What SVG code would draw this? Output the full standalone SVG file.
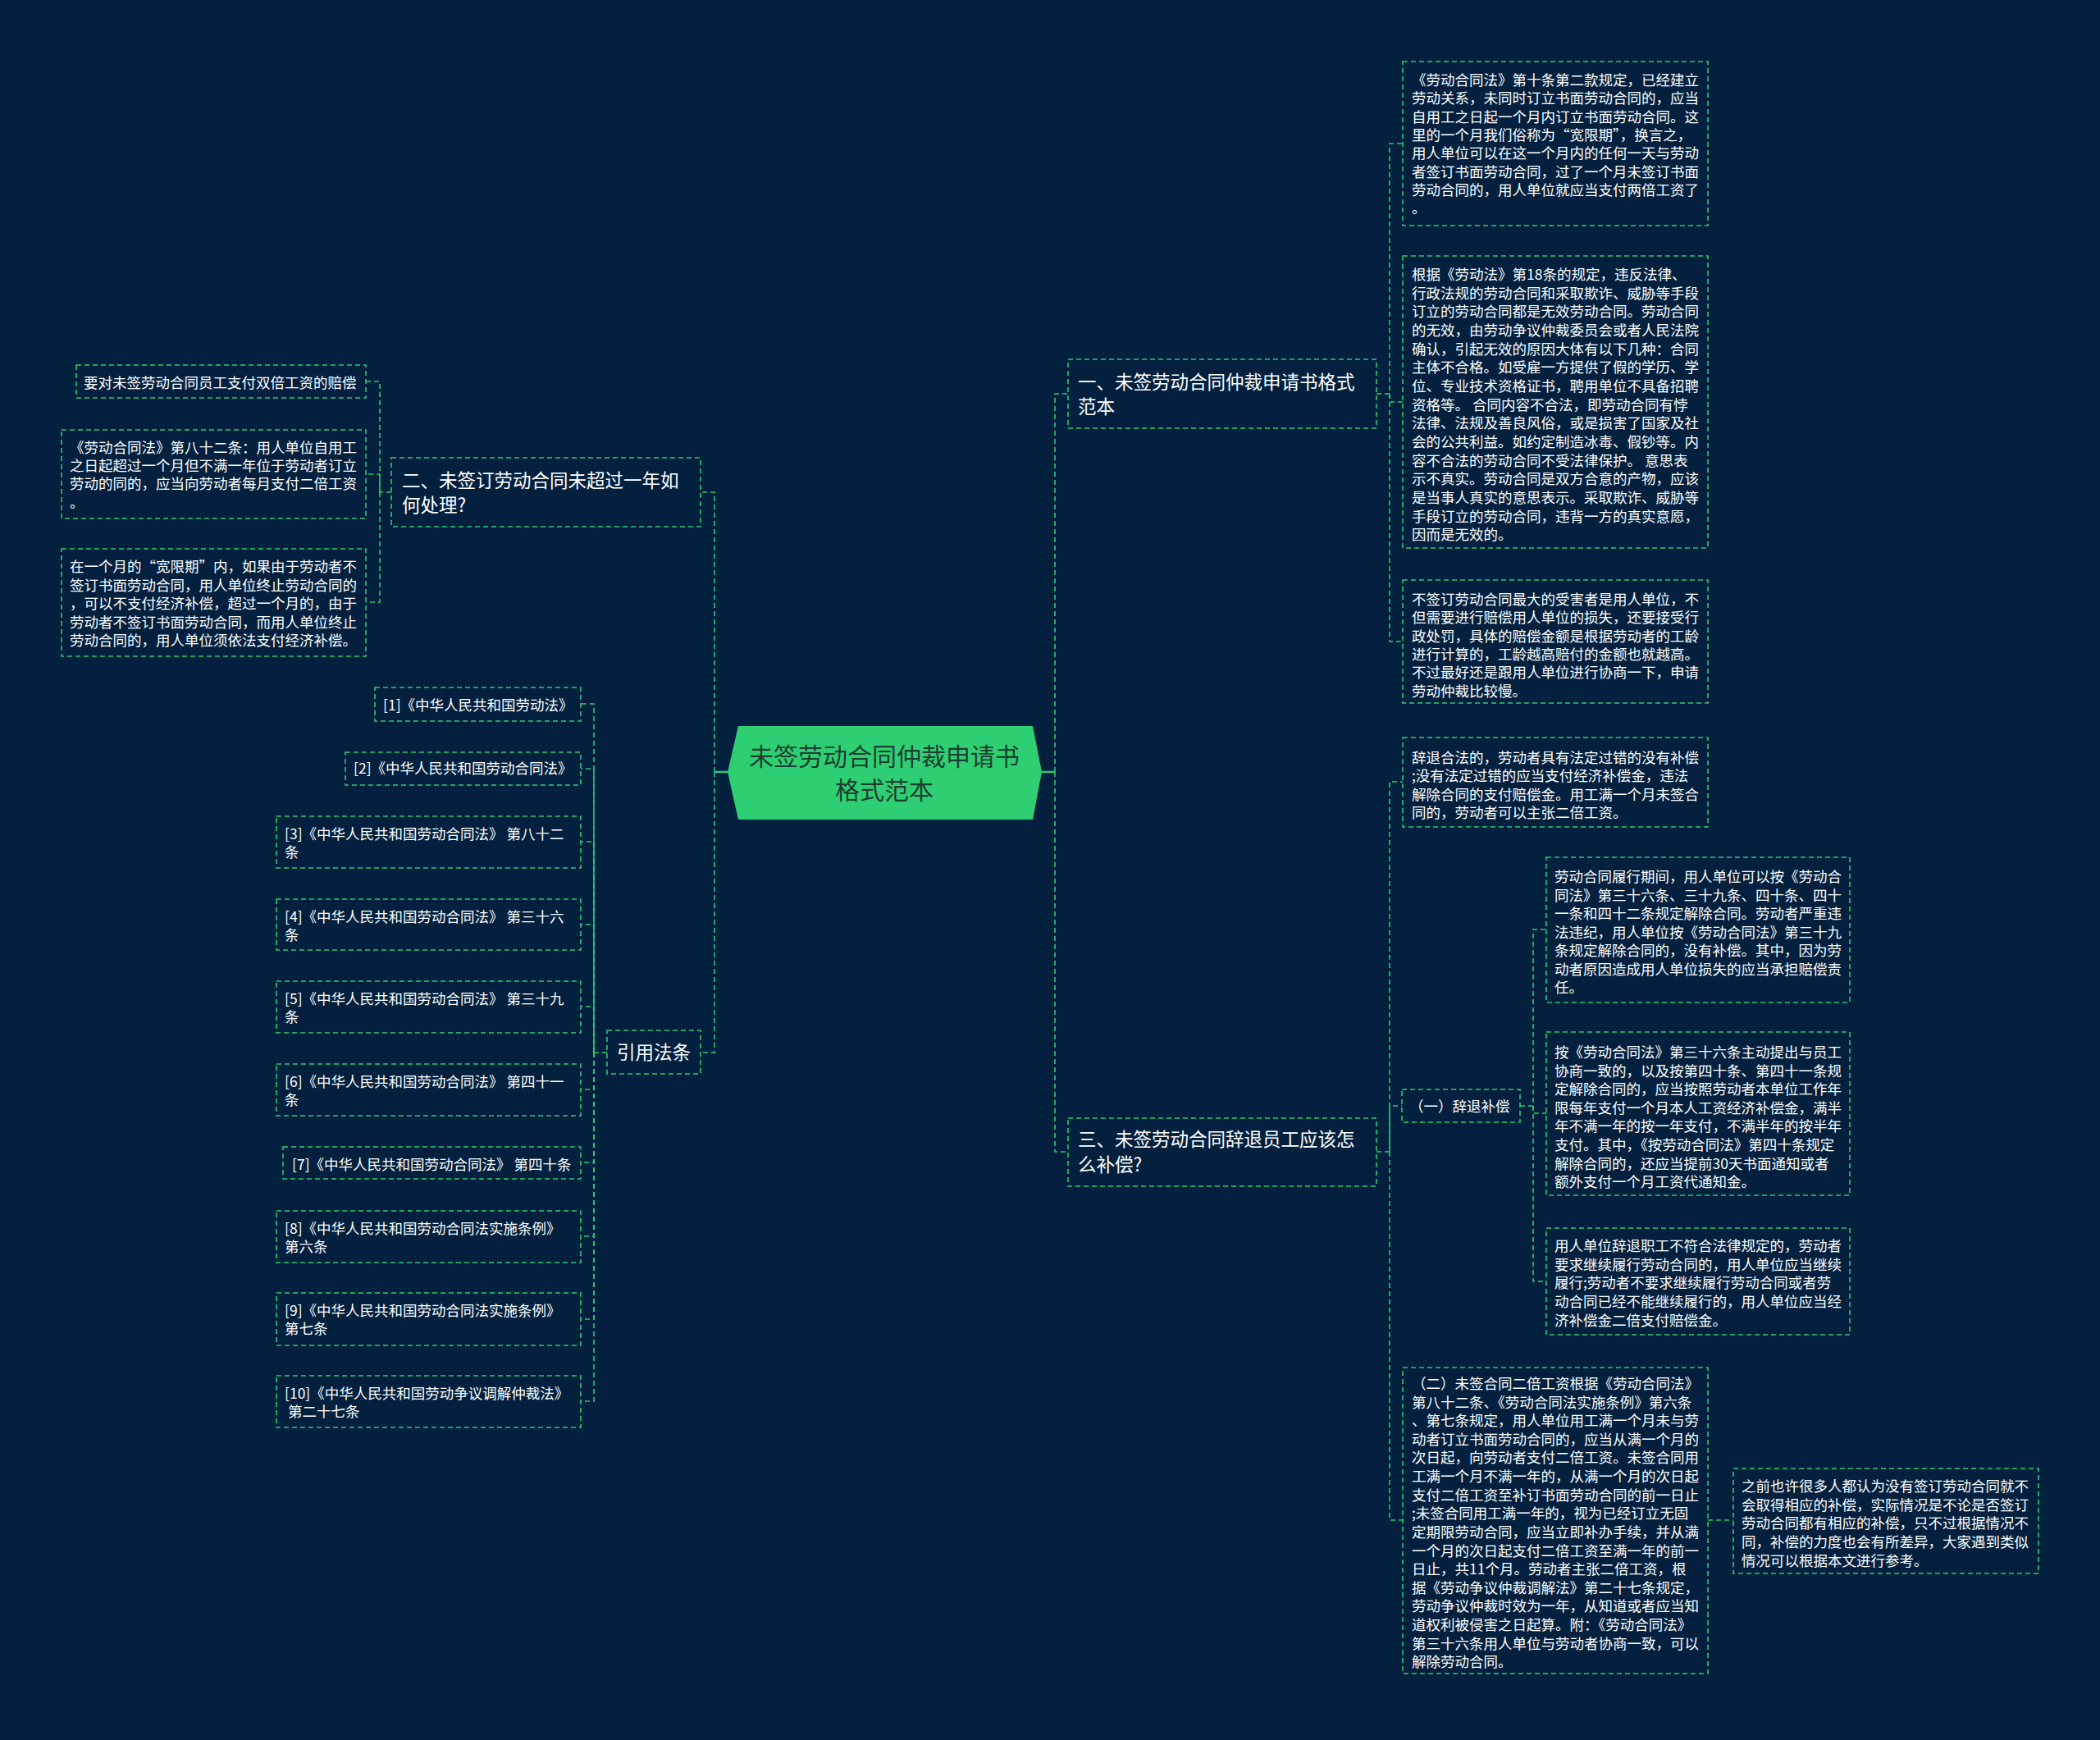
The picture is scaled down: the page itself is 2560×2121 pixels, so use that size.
<svg xmlns="http://www.w3.org/2000/svg" width="2560" height="2121" viewBox="0 0 2560 2121">
<style>
.box{fill:#03213f;stroke:#2fc873;stroke-width:1.6;stroke-dasharray:6 4}
.conn{fill:none;stroke:#2fc873;stroke-width:1.6;stroke-dasharray:6 4}
.solid{fill:none;stroke:#2fc873;stroke-width:2.5}
.t{font-family:"Noto Sans CJK SC","Noto Sans",sans-serif;fill:#ffffff;font-size:17.5px}
.tb{font-family:"Noto Sans CJK SC","Noto Sans",sans-serif;fill:#ffffff;font-size:22.5px}
.tc{font-family:"Noto Sans CJK SC","Noto Sans",sans-serif;fill:#1c3d2f;font-size:30px}
</style>
<rect x="0" y="0" width="2560" height="2121" fill="#03213f"/>

<g id="connectors">
<path class="solid" d="M1270,941 H1286"/>
<path class="solid" d="M887,941 H871"/>
<path class="conn" d="M1286,941 V480 H1302"/>
<path class="conn" d="M1286,941 V1404 H1302"/>
<path class="conn" d="M871,941 V600 H854"/>
<path class="conn" d="M871,941 V1283 H854"/>
<path class="conn" d="M477,600 H463 V465 H446"/>
<path class="conn" d="M463,600 V578 H446"/>
<path class="conn" d="M463,600 V734 H446"/>
<path class="conn" d="M740,1283 H724 V858 H708"/>
<path class="conn" d="M724,1283 V937 H708"/>
<path class="conn" d="M724,1283 V1026 H708"/>
<path class="conn" d="M724,1283 V1127 H708"/>
<path class="conn" d="M724,1283 V1227 H708"/>
<path class="conn" d="M724,1283 V1328 H708"/>
<path class="conn" d="M724,1283 V1417 H708"/>
<path class="conn" d="M724,1283 V1507 H708"/>
<path class="conn" d="M724,1283 V1608 H708"/>
<path class="conn" d="M724,1283 V1708 H708"/>
<path class="conn" d="M1678,480 H1694 V175 H1710"/>
<path class="conn" d="M1694,480 V490 H1710"/>
<path class="conn" d="M1694,480 V782 H1710"/>
<path class="conn" d="M1678,1404 H1694 V953 H1710"/>
<path class="conn" d="M1694,1404 V1348 H1709"/>
<path class="conn" d="M1694,1404 V1853 H1710"/>
<path class="conn" d="M1853,1348 H1869 V1133 H1885"/>
<path class="conn" d="M1869,1348 V1357 H1885"/>
<path class="conn" d="M1869,1348 V1562 H1885"/>
<path class="conn" d="M2082,1853 H2113"/>
</g>

<g id="center">
<polygon points="887,941 900,885 1259,885 1270,941 1259,999 900,999" fill="#2ecf72"/>
<text class="tc" text-anchor="middle" x="1078" y="933">未签劳动合同仲裁申请书</text>
<text class="tc" text-anchor="middle" x="1078" y="974">格式范本</text>
</g>

<g id="branch1">
<rect class="box" x="1302" y="438" width="376" height="84"/>
<text class="tb" x="1314" y="474">一、未签劳动合同仲裁申请书格式</text>
<text class="tb" x="1314" y="504">范本</text>
</g>

<g id="branch3">
<rect class="box" x="1302" y="1363" width="376" height="83"/>
<text class="tb" x="1314" y="1397">三、未签劳动合同辞退员工应该怎</text>
<text class="tb" x="1314" y="1428">么补偿?</text>
</g>

<g id="branch2">
<rect class="box" x="477" y="558" width="377" height="84"/>
<text class="tb" x="490" y="594">二、未签订劳动合同未超过一年如</text>
<text class="tb" x="490" y="624">何处理?</text>
</g>

<g id="branch-refs">
<rect class="box" x="740" y="1256" width="114" height="53"/>
<text class="tb" text-anchor="middle" x="797" y="1291">引用法条</text>
</g>

<g id="r1-a">
<rect class="box" x="1710" y="75" width="372" height="200"/>
<text class="t" x="1721" y="104"><tspan x="1721">《劳动合同法》第十条第二款规定，已经建立</tspan><tspan x="1721" dy="22.33">劳动关系，未同时订立书面劳动合同的，应当</tspan><tspan x="1721" dy="22.33">自用工之日起一个月内订立书面劳动合同。这</tspan><tspan x="1721" dy="22.33">里的一个月我们俗称为“宽限期”，换言之，</tspan><tspan x="1721" dy="22.33">用人单位可以在这一个月内的任何一天与劳动</tspan><tspan x="1721" dy="22.33">者签订书面劳动合同，过了一个月未签订书面</tspan><tspan x="1721" dy="22.33">劳动合同的，用人单位就应当支付两倍工资了</tspan><tspan x="1721" dy="22.33">。</tspan></text>
</g>

<g id="r1-b">
<rect class="box" x="1710" y="312" width="372" height="356"/>
<text class="t" x="1721" y="341"><tspan x="1721">根据《劳动法》第18条的规定，违反法律、</tspan><tspan x="1721" dy="22.67">行政法规的劳动合同和采取欺诈、威胁等手段</tspan><tspan x="1721" dy="22.67">订立的劳动合同都是无效劳动合同。劳动合同</tspan><tspan x="1721" dy="22.67">的无效，由劳动争议仲裁委员会或者人民法院</tspan><tspan x="1721" dy="22.67">确认，引起无效的原因大体有以下几种：合同</tspan><tspan x="1721" dy="22.67">主体不合格。如受雇一方提供了假的学历、学</tspan><tspan x="1721" dy="22.67">位、专业技术资格证书，聘用单位不具备招聘</tspan><tspan x="1721" dy="22.67">资格等。 合同内容不合法，即劳动合同有悖</tspan><tspan x="1721" dy="22.67">法律、法规及善良风俗，或是损害了国家及社</tspan><tspan x="1721" dy="22.67">会的公共利益。如约定制造冰毒、假钞等。内</tspan><tspan x="1721" dy="22.67">容不合法的劳动合同不受法律保护。 意思表</tspan><tspan x="1721" dy="22.67">示不真实。劳动合同是双方合意的产物，应该</tspan><tspan x="1721" dy="22.67">是当事人真实的意思表示。采取欺诈、威胁等</tspan><tspan x="1721" dy="22.67">手段订立的劳动合同，违背一方的真实意愿，</tspan><tspan x="1721" dy="22.67">因而是无效的。</tspan></text>
</g>

<g id="r1-c">
<rect class="box" x="1710" y="707" width="372" height="150"/>
<text class="t" x="1721" y="737"><tspan x="1721">不签订劳动合同最大的受害者是用人单位，不</tspan><tspan x="1721" dy="22.33">但需要进行赔偿用人单位的损失，还要接受行</tspan><tspan x="1721" dy="22.33">政处罚，具体的赔偿金额是根据劳动者的工龄</tspan><tspan x="1721" dy="22.33">进行计算的，工龄越高赔付的金额也就越高。</tspan><tspan x="1721" dy="22.33">不过最好还是跟用人单位进行协商一下，申请</tspan><tspan x="1721" dy="22.33">劳动仲裁比较慢。</tspan></text>
</g>

<g id="r3-a">
<rect class="box" x="1710" y="899" width="372" height="109"/>
<text class="t" x="1721" y="930"><tspan x="1721">辞退合法的，劳动者具有法定过错的没有补偿</tspan><tspan x="1721" dy="22.3">;没有法定过错的应当支付经济补偿金，违法</tspan><tspan x="1721" dy="22.3">解除合同的支付赔偿金。用工满一个月未签合</tspan><tspan x="1721" dy="22.3">同的，劳动者可以主张二倍工资。</tspan></text>
</g>

<g id="r3-b">
<rect class="box" x="1709" y="1328" width="144" height="40"/>
<text class="t" x="1718" y="1355">（一）辞退补偿</text>
</g>

<g id="r3-b1">
<rect class="box" x="1885" y="1045" width="370" height="177"/>
<text class="t" x="1895" y="1075"><tspan x="1895">劳动合同履行期间，用人单位可以按《劳动合</tspan><tspan x="1895" dy="22.5">同法》第三十六条、三十九条、四十条、四十</tspan><tspan x="1895" dy="22.5">一条和四十二条规定解除合同。劳动者严重违</tspan><tspan x="1895" dy="22.5">法违纪，用人单位按《劳动合同法》第三十九</tspan><tspan x="1895" dy="22.5">条规定解除合同的，没有补偿。其中，因为劳</tspan><tspan x="1895" dy="22.5">动者原因造成用人单位损失的应当承担赔偿责</tspan><tspan x="1895" dy="22.5">任。</tspan></text>
</g>

<g id="r3-b2">
<rect class="box" x="1885" y="1258" width="370" height="199"/>
<text class="t" x="1895" y="1289"><tspan x="1895">按《劳动合同法》第三十六条主动提出与员工</tspan><tspan x="1895" dy="22.62">协商一致的，以及按第四十条、第四十一条规</tspan><tspan x="1895" dy="22.62">定解除合同的，应当按照劳动者本单位工作年</tspan><tspan x="1895" dy="22.62">限每年支付一个月本人工资经济补偿金，满半</tspan><tspan x="1895" dy="22.62">年不满一年的按一年支付，不满半年的按半年</tspan><tspan x="1895" dy="22.62">支付。其中，《按劳动合同法》第四十条规定</tspan><tspan x="1895" dy="22.62">解除合同的，还应当提前30天书面通知或者</tspan><tspan x="1895" dy="22.62">额外支付一个月工资代通知金。</tspan></text>
</g>

<g id="r3-b3">
<rect class="box" x="1885" y="1497" width="370" height="130"/>
<text class="t" x="1895" y="1525"><tspan x="1895">用人单位辞退职工不符合法律规定的，劳动者</tspan><tspan x="1895" dy="22.7">要求继续履行劳动合同的，用人单位应当继续</tspan><tspan x="1895" dy="22.7">履行;劳动者不要求继续履行劳动合同或者劳</tspan><tspan x="1895" dy="22.7">动合同已经不能继续履行的，用人单位应当经</tspan><tspan x="1895" dy="22.7">济补偿金二倍支付赔偿金。</tspan></text>
</g>

<g id="r3-c">
<rect class="box" x="1710" y="1667" width="372" height="373"/>
<text class="t" x="1721" y="1693"><tspan x="1721">（二）未签合同二倍工资根据《劳动合同法》</tspan><tspan x="1721" dy="22.62">第八十二条、《劳动合同法实施条例》第六条</tspan><tspan x="1721" dy="22.62">、第七条规定，用人单位用工满一个月未与劳</tspan><tspan x="1721" dy="22.62">动者订立书面劳动合同的，应当从满一个月的</tspan><tspan x="1721" dy="22.62">次日起，向劳动者支付二倍工资。未签合同用</tspan><tspan x="1721" dy="22.62">工满一个月不满一年的，从满一个月的次日起</tspan><tspan x="1721" dy="22.62">支付二倍工资至补订书面劳动合同的前一日止</tspan><tspan x="1721" dy="22.62">;未签合同用工满一年的，视为已经订立无固</tspan><tspan x="1721" dy="22.62">定期限劳动合同，应当立即补办手续，并从满</tspan><tspan x="1721" dy="22.62">一个月的次日起支付二倍工资至满一年的前一</tspan><tspan x="1721" dy="22.62">日止，共11个月。劳动者主张二倍工资，根</tspan><tspan x="1721" dy="22.62">据《劳动争议仲裁调解法》第二十七条规定，</tspan><tspan x="1721" dy="22.62">劳动争议仲裁时效为一年，从知道或者应当知</tspan><tspan x="1721" dy="22.62">道权利被侵害之日起算。附：《劳动合同法》</tspan><tspan x="1721" dy="22.62">第三十六条用人单位与劳动者协商一致，可以</tspan><tspan x="1721" dy="22.62">解除劳动合同。</tspan></text>
</g>

<g id="r3-c1">
<rect class="box" x="2113" y="1790" width="372" height="128"/>
<text class="t" x="2123" y="1818"><tspan x="2123">之前也许很多人都认为没有签订劳动合同就不</tspan><tspan x="2123" dy="22.7">会取得相应的补偿，实际情况是不论是否签订</tspan><tspan x="2123" dy="22.7">劳动合同都有相应的补偿，只不过根据情况不</tspan><tspan x="2123" dy="22.7">同，补偿的力度也会有所差异，大家遇到类似</tspan><tspan x="2123" dy="22.7">情况可以根据本文进行参考。</tspan></text>
</g>

<g id="l2-a">
<rect class="box" x="93" y="445" width="353" height="40"/>
<text class="t" x="102" y="473">要对未签劳动合同员工支付双倍工资的赔偿</text>
</g>

<g id="l2-b">
<rect class="box" x="75" y="524" width="371" height="108"/>
<text class="t" x="85" y="552"><tspan x="85">《劳动合同法》第八十二条：用人单位自用工</tspan><tspan x="85" dy="22.2">之日起超过一个月但不满一年位于劳动者订立</tspan><tspan x="85" dy="22.2">劳动的同的，应当向劳动者每月支付二倍工资</tspan><tspan x="85" dy="22.2">。</tspan></text>
</g>

<g id="l2-c">
<rect class="box" x="75" y="669" width="371" height="131"/>
<text class="t" x="85" y="697"><tspan x="85">在一个月的“宽限期”内，如果由于劳动者不</tspan><tspan x="85" dy="22.5">签订书面劳动合同，用人单位终止劳动合同的</tspan><tspan x="85" dy="22.5">，可以不支付经济补偿，超过一个月的，由于</tspan><tspan x="85" dy="22.5">劳动者不签订书面劳动合同，而用人单位终止</tspan><tspan x="85" dy="22.5">劳动合同的，用人单位须依法支付经济补偿。</tspan></text>
</g>

<g id="ref1">
<rect class="box" x="457" y="838" width="251" height="41"/>
<text class="t" x="467" y="866">[1]《中华人民共和国劳动法》</text>
</g>
<g id="ref2">
<rect class="box" x="421" y="917" width="287" height="40"/>
<text class="t" x="431" y="943">[2]《中华人民共和国劳动合同法》</text>
</g>
<g id="ref3">
<rect class="box" x="337" y="995" width="371" height="63"/>
<text class="t" x="347" y="1023"><tspan x="347">[3]《中华人民共和国劳动合同法》 第八十二</tspan><tspan x="347" dy="21.5">条</tspan></text>
</g>
<g id="ref4">
<rect class="box" x="337" y="1096" width="371" height="62"/>
<text class="t" x="347" y="1124"><tspan x="347">[4]《中华人民共和国劳动合同法》 第三十六</tspan><tspan x="347" dy="21.5">条</tspan></text>
</g>
<g id="ref5">
<rect class="box" x="337" y="1196" width="371" height="63"/>
<text class="t" x="347" y="1224"><tspan x="347">[5]《中华人民共和国劳动合同法》 第三十九</tspan><tspan x="347" dy="21.5">条</tspan></text>
</g>
<g id="ref6">
<rect class="box" x="337" y="1297" width="371" height="63"/>
<text class="t" x="347" y="1325"><tspan x="347">[6]《中华人民共和国劳动合同法》 第四十一</tspan><tspan x="347" dy="21.5">条</tspan></text>
</g>
<g id="ref7">
<rect class="box" x="345" y="1398" width="363" height="39"/>
<text class="t" x="356" y="1426">[7]《中华人民共和国劳动合同法》 第四十条</text>
</g>
<g id="ref8">
<rect class="box" x="337" y="1476" width="371" height="63"/>
<text class="t" x="347" y="1504"><tspan x="347">[8]《中华人民共和国劳动合同法实施条例》</tspan><tspan x="347" dy="21.5">第六条</tspan></text>
</g>
<g id="ref9">
<rect class="box" x="337" y="1576" width="371" height="64"/>
<text class="t" x="347" y="1604"><tspan x="347">[9]《中华人民共和国劳动合同法实施条例》</tspan><tspan x="347" dy="21.5">第七条</tspan></text>
</g>
<g id="ref10">
<rect class="box" x="337" y="1677" width="371" height="63"/>
<text class="t" x="347" y="1705"><tspan x="347">[10]《中华人民共和国劳动争议调解仲裁法》</tspan><tspan x="347" dy="21.5"> 第二十七条</tspan></text>
</g>
</svg>
